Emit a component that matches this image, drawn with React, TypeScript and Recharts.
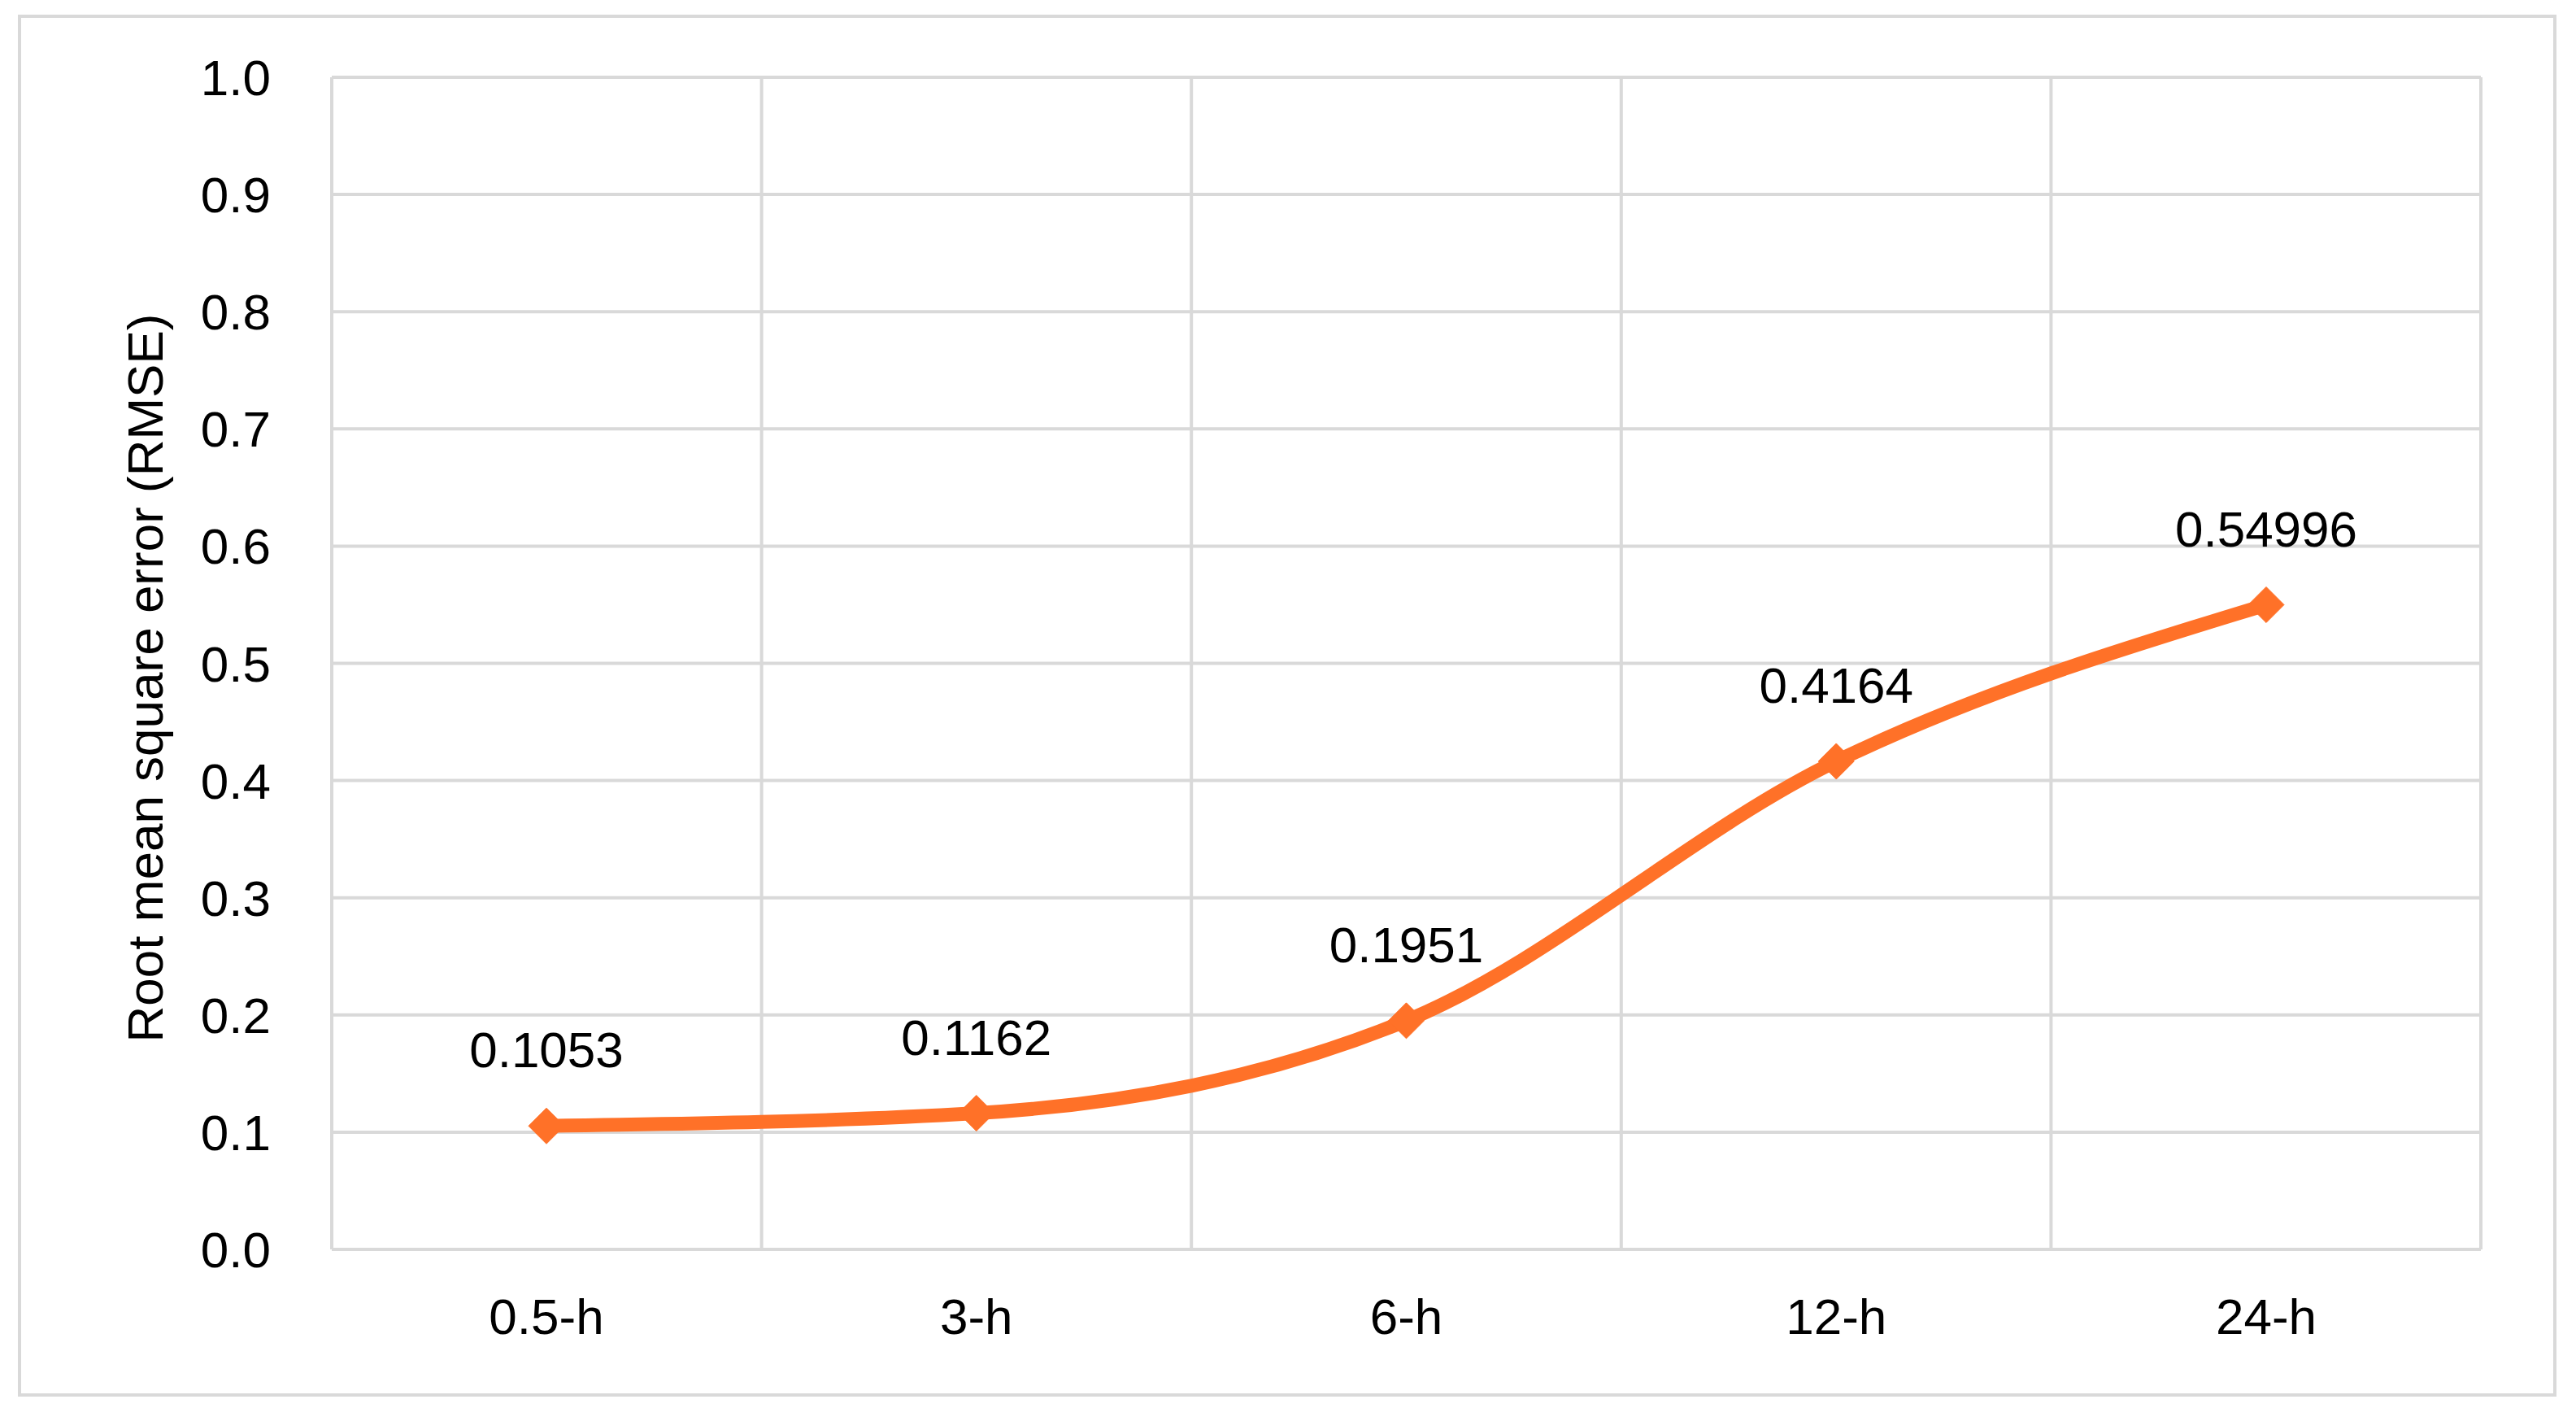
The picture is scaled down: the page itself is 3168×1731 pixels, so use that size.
import { LineChart, Line, XAxis, YAxis, CartesianGrid, LabelList } from 'recharts'

const horizons = ['0.5-h', '3-h', '6-h', '12-h', '24-h']
const rmseValues = [0.1053, 0.1162, 0.1951, 0.4164, 0.54996]
const yTicks = [0, 0.1, 0.2, 0.3, 0.4, 0.5, 0.6, 0.7, 0.8, 0.9, 1.0]

const chartData = horizons.map((h, i) => ({ horizon: h, rmse: rmseValues[i] }))

const FONT = '"Liberation Sans", Arial, sans-serif'
const ORANGE = '#FF7128'
const GRID = '#d9d9d9'

// plot spans 2643px, half a category band on each side
const HALF_BAND = 264

const DiamondDot = (props: any) => {
  const { cx, cy, index } = props
  if (cx == null || cy == null) return <g key={index} />
  const r = 22
  return (
    <path
      key={index}
      d={`M${cx},${cy - r} L${cx + r},${cy} L${cx},${cy + r} L${cx - r},${cy} Z`}
      fill={ORANGE}
      stroke={ORANGE}
    />
  )
}

const YTitle = ({ viewBox }: any) => {
  const x = viewBox.x + 78
  const y = viewBox.y + viewBox.height / 2 + 18
  return (
    <text
      x={x}
      y={y}
      transform={`rotate(-90, ${x}, ${y})`}
      textAnchor="middle"
      dominantBaseline="central"
      fill="#000"
      fontSize={62}
      fontFamily={FONT}
    >
      Root mean square error (RMSE)
    </text>
  )
}

export default function App() {
  return (
    <div style={{ position: 'absolute', left: 0, top: 0, width: 3168, height: 1731, background: '#fff' }}>
      <div
        style={{
          position: 'absolute',
          left: 22,
          top: 18,
          width: 3114,
          height: 1691,
          border: `4px solid ${GRID}`,
        }}
      />
      <div style={{ position: 'absolute', left: 0, top: 0 }}>
        <LineChart
          width={3168}
          height={1731}
          data={chartData}
          margin={{ top: 95, right: 117, bottom: 0, left: 100 }}
        >
          <CartesianGrid
            stroke={GRID}
            strokeWidth={4}
            verticalCoordinatesGenerator={({ offset }: any) =>
              Array.from({ length: horizons.length + 1 }, (_, i) => offset.left + (i * offset.width) / horizons.length)
            }
          />
          <XAxis
            dataKey="horizon"
            axisLine={false}
            tickLine={false}
            tickSize={0}
            tickMargin={60}
            interval={0}
            height={195}
            padding={{ left: HALF_BAND, right: HALF_BAND }}
            tick={{ fill: '#000', fontSize: 62, fontFamily: FONT }}
          />
          <YAxis
            domain={[0, 1]}
            ticks={yTicks}
            width={308}
            axisLine={false}
            tickLine={false}
            tickSize={0}
            tickMargin={75}
            tickFormatter={(v: number) => v.toFixed(1)}
            tick={{ fill: '#000', fontSize: 62, fontFamily: FONT }}
            label={<YTitle />}
          />
          <Line
            type="monotone"
            dataKey="rmse"
            stroke={ORANGE}
            strokeWidth={17}
            dot={DiamondDot}
            activeDot={false}
            isAnimationActive={false}
          >
            <LabelList
              dataKey="rmse"
              position="top"
              offset={72}
              fill="#000"
              fontSize={62}
              fontFamily={FONT}
            />
          </Line>
        </LineChart>
      </div>
    </div>
  )
}
